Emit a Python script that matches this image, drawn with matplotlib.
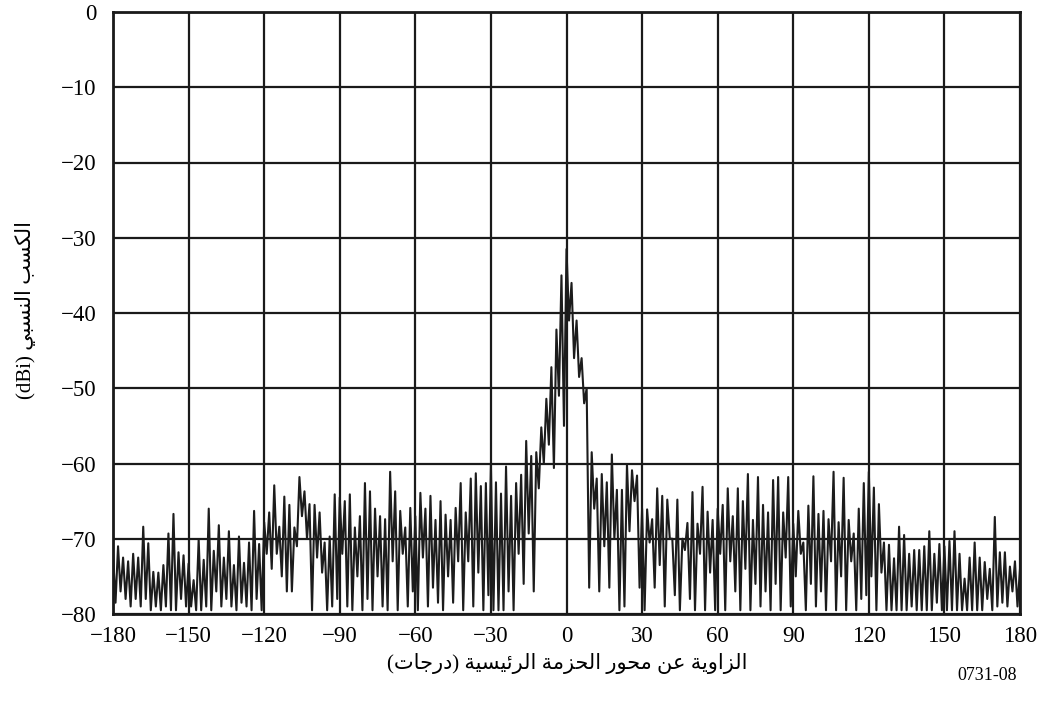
import numpy as np
import matplotlib
matplotlib.use("Agg")
import matplotlib.pyplot as plt

# Angle grid (deg) for the measured pattern: one peak / one dip every 2 degrees
angulos = list(range(-180, 181, 2))

# Peak values (dBi)
picos = [
    -72.0, -71.0, -72.5, -73.0, -72.0, -72.5, -68.4, -70.6, -74.4, -74.5,   # -180..-162
    -73.5, -69.3, -66.7, -71.8, -72.2, -73.3, -75.5, -70.1, -72.8, -66.0,   # -160..-142
    -71.6, -68.2, -72.5, -69.0, -73.5, -69.7, -73.2, -70.5, -66.3, -70.7,   # -140..-122
    -67.8, -66.5, -62.9, -68.4, -64.4, -65.5, -68.5, -61.8, -63.7, -65.4,   # -120..-102
    -65.5, -66.5, -70.5, -69.7, -64.1, -64.5, -65.0, -64.1, -68.5, -67.0,   # -100..-82
    -62.6, -63.7, -66.0, -67.0, -67.4, -61.1, -63.7, -66.3, -68.5, -65.9,   # -80..-62
    -67.0, -63.9, -66.0, -64.3, -67.5, -65.0, -66.8, -67.5, -65.9, -62.6,   # -60..-42
    -66.5, -62.0, -61.3, -63.0, -62.6, -60.2, -62.5, -64.0, -60.4, -64.3,   # -40..-22
    -62.6, -61.5, -57.0, -59.0, -58.5, -55.2, -51.4, -47.2, -42.2, -35.0,   # -20..-2
    -31.5,                                                                  # 0
    -36.0, -41.0, -46.0, -50.0, -58.5, -62.0, -61.4, -62.5, -58.8, -63.5,   # 2..20
    -63.5, -60.1, -60.9, -61.6, -66.0, -66.1, -67.4, -63.3, -64.3, -64.8,   # 22..40
    -70.0, -64.8, -70.0, -67.9, -63.8, -68.0, -63.1, -66.4, -67.5, -66.0,   # 42..60
    -65.5, -63.3, -67.0, -63.3, -65.0, -61.4, -67.5, -61.8, -65.5, -66.5,   # 62..80
    -62.2, -61.8, -66.5, -61.8, -68.0, -66.3, -70.5, -65.6, -61.7, -66.7,   # 82..100
    -66.3, -67.4, -61.1, -67.8, -61.9, -67.5, -69.3, -66.0, -62.6, -61.1,   # 102..120
    -63.2, -65.4, -70.5, -70.8, -72.6, -68.4, -69.5, -72.0, -71.5, -71.5,   # 122..140
    -71.0, -69.0, -72.0, -70.7, -71.0, -70.3, -69.0, -72.0, -75.3, -72.5,   # 142..160
    -70.5, -72.5, -73.1, -74.0, -67.1, -71.8, -71.8, -73.7, -73.0, -74.0,   # 162..180
]

# Dip values (dBi) between successive peaks
valles = [
    -78.5, -77.0, -78.0, -79.0, -78.0, -79.0, -78.0, -79.5, -79.0, -79.5,
    -79.0, -79.5, -79.5, -78.0, -79.0, -79.0, -79.5, -79.5, -79.0, -79.5,
    -77.0, -79.0, -78.0, -79.0, -79.5, -78.5, -79.0, -79.5, -78.0, -79.5,
    -72.0, -74.0, -72.0, -75.0, -77.0, -77.0, -71.0, -67.0, -70.0, -79.5,
    -72.5, -74.5, -79.5, -79.0, -78.0, -72.0, -79.0, -79.5, -75.0, -79.5,
    -78.0, -79.5, -75.0, -79.0, -79.5, -73.0, -79.5, -72.0, -79.0, -77.0,
    -79.5, -72.5, -79.0, -76.5, -78.5, -79.5, -75.0, -78.5, -73.0, -79.5,
    -73.0, -79.0, -74.5, -79.5, -77.5, -79.5, -79.5, -79.5, -77.0, -79.5,
    -72.0, -76.0, -69.3, -77.0, -63.3, -60.0, -57.5, -60.6, -51.0, -55.0,
    -41.0,
    -46.0, -48.5, -52.0, -76.5, -66.0, -77.0, -71.0, -76.5, -70.0, -79.5,
    -79.0, -69.0, -65.0, -76.5, -79.5, -70.5, -76.5, -73.5, -79.0, -70.0,
    -77.5, -79.5, -71.5, -78.0, -79.5, -72.0, -79.5, -74.5, -79.5, -72.0,
    -79.5, -73.0, -77.0, -79.5, -74.0, -79.5, -76.0, -79.0, -77.0, -79.5,
    -76.0, -79.5, -72.5, -79.0, -75.0, -72.0, -79.5, -76.0, -79.0, -77.0,
    -79.5, -73.0, -79.5, -75.0, -79.5, -73.0, -79.5, -78.0, -77.5, -75.0,
    -79.5, -74.5, -79.5, -79.5, -79.5, -79.5, -79.5, -79.0, -79.5, -79.5,
    -79.5, -79.5, -78.5, -79.5, -79.5, -79.5, -79.5, -79.5, -79.5, -79.5,
    -79.5, -79.5, -78.0, -79.5, -79.0, -78.5, -79.0, -77.0, -79.0, -77.0,
]

xticks = [-180, -150, -120, -90, -60, -30, 0, 30, 60, 90, 120, 150, 180]
yticks = [0, -10, -20, -30, -40, -50, -60, -70, -80]

titulo_y = "الكسب النسبي"
unidad_y = "(dBi)"
titulo_x = "الزاوية عن محور الحزمة الرئيسية (درجات)"
codigo = "0731-08"

# Minimal Arabic shaping (presentation forms) + visual reordering,
# matplotlib does not do complex text layout by itself
formas = {
    'ا': ('\uFE8D', '\uFE8E', None, None),
    'ب': ('\uFE8F', '\uFE90', '\uFE91', '\uFE92'),
    'ت': ('\uFE95', '\uFE96', '\uFE97', '\uFE98'),
    'ة': ('\uFE93', '\uFE94', None, None),
    'ج': ('\uFE9D', '\uFE9E', '\uFE9F', '\uFEA0'),
    'ح': ('\uFEA1', '\uFEA2', '\uFEA3', '\uFEA4'),
    'د': ('\uFEA9', '\uFEAA', None, None),
    'ر': ('\uFEAD', '\uFEAE', None, None),
    'ز': ('\uFEAF', '\uFEB0', None, None),
    'س': ('\uFEB1', '\uFEB2', '\uFEB3', '\uFEB4'),
    'ع': ('\uFEC9', '\uFECA', '\uFECB', '\uFECC'),
    'ك': ('\uFED9', '\uFEDA', '\uFEDB', '\uFEDC'),
    'ل': ('\uFEDD', '\uFEDE', '\uFEDF', '\uFEE0'),
    'م': ('\uFEE1', '\uFEE2', '\uFEE3', '\uFEE4'),
    'ن': ('\uFEE5', '\uFEE6', '\uFEE7', '\uFEE8'),
    'و': ('\uFEED', '\uFEEE', None, None),
    'ي': ('\uFEF1', '\uFEF2', '\uFEF3', '\uFEF4'),
    'ئ': ('\uFE89', '\uFE8A', '\uFE8B', '\uFE8C'),
}


def une_siguiente(c):
    return c in formas and formas[c][2] is not None


def arabe_visual(texto):
    salida = []
    for i, c in enumerate(texto):
        if c not in formas:
            salida.append(c)
            continue
        prev = i > 0 and une_siguiente(texto[i - 1])
        sig = une_siguiente(c) and i + 1 < len(texto) and texto[i + 1] in formas
        iso, fin, ini, med = formas[c]
        if prev and sig:
            salida.append(med)
        elif prev:
            salida.append(fin)
        elif sig:
            salida.append(ini)
        else:
            salida.append(iso)
    espejo = {'(': ')', ')': '('}
    return ''.join(espejo.get(c, c) for c in reversed(salida))


# zigzag: peak at each angle, dip one degree later
xs, ys = [], []
for a, p, v in zip(angulos, picos, valles):
    xs += [a, a + 1]
    ys += [p, v]

fig = plt.figure(figsize=(10.41, 7.04), dpi=100)
ax = fig.add_axes([113 / 1041, 1 - 614 / 704, 907 / 1041, 602 / 704])

ax.plot(xs, ys, color='#1c1c1c', linewidth=1.5, zorder=3)

ax.set_xlim(-180, 180)
ax.set_ylim(-80, 0)
ax.set_xticks(xticks)
ax.set_yticks(yticks)
ax.grid(True, color='#1a1a1a', linewidth=1.6)
ax.set_axisbelow(True)
for s in ax.spines.values():
    s.set_linewidth(2.0)
    s.set_color('#1a1a1a')
ax.tick_params(length=0, pad=9, labelsize=16.5)
ax.tick_params(axis='y', pad=12)
for lab in ax.get_xticklabels() + ax.get_yticklabels():
    lab.set_family('Liberation Serif')

fuente = ['Liberation Serif', 'DejaVu Sans']
fig.text(26 / 1041, 1 - 310 / 704, unidad_y + ' ' + arabe_visual(titulo_y),
         rotation=90, ha='center', va='center', fontsize=15, family=fuente)
fig.text(567 / 1041, 1 - 664 / 704, arabe_visual(titulo_x),
         ha='center', va='center', fontsize=15, family=fuente)
fig.text(987 / 1041, 1 - 675 / 704, codigo, ha='center', va='center',
         fontsize=13, family='Liberation Serif')

fig.savefig('out.png', dpi=100)
